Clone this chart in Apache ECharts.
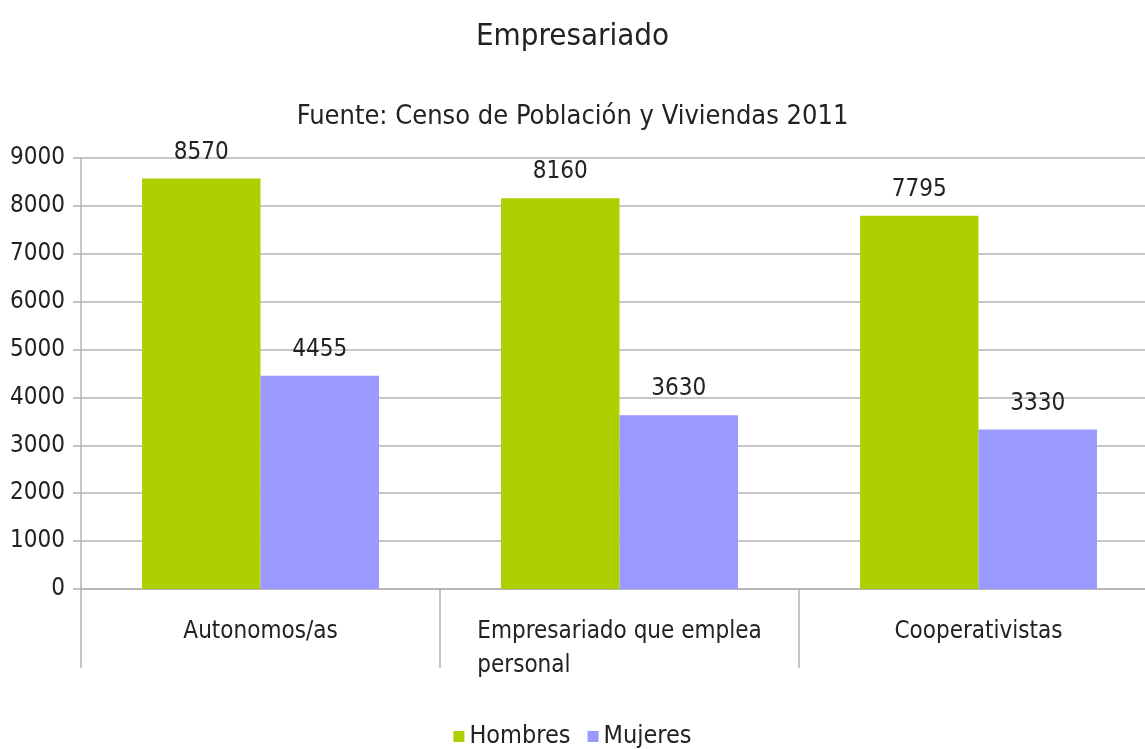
<!DOCTYPE html>
<html>
<head>
<meta charset="utf-8">
<style>
  html, body { margin: 0; padding: 0; background: #fff; }
  #chartContainer { width: 1145px; height: 749px; }
</style>
<script src="https://cdn.jsdelivr.net/npm/echarts@6/dist/echarts.min.js"></script>
</head>
<body>
<div id="chartContainer"></div>
<script>
const categories = ['Autonomos/as', 'Empresariado que emplea\npersonal', 'Cooperativistas'];
const hombres = [8570, 8160, 7795];
const mujeres = [4455, 3630, 3330];
const seriesNames = ['Hombres', 'Mujeres'];

const font = '"DejaVu Sans Condensed", "Liberation Sans", sans-serif';
const gridColor = '#b3b3b3';
const textColor = '#222';

const chart = echarts.init(document.getElementById('chartContainer'), null, {renderer: 'canvas'});
const option = {
    animation: false,
    color: ['#aecf00', '#9999ff'],
    title: [
        {
            text: 'Empresariado',
            left: 'center',
            top: 16,
            textStyle: {fontFamily: font, fontSize: 31, fontWeight: 'normal', color: textColor}
        },
        {
            text: 'Fuente: Censo de Población y Viviendas 2011',
            left: 'center',
            top: 98,
            textStyle: {fontFamily: font, fontSize: 27, fontWeight: 'normal', color: textColor}
        }
    ],
    legend: {
        bottom: -5,
        left: 'center',
        icon: 'rect',
        itemWidth: 11,
        itemHeight: 11,
        itemGap: 17,
        textStyle: {fontFamily: font, fontSize: 25, color: textColor},
        data: seriesNames
    },
    grid: {
        left: 81,
        top: 158,
        bottom: 160,
        width: 1077,
        outerBoundsMode: 'none',
        containLabel: false
    },
    xAxis: {
        type: 'category',
        data: categories,
        axisLine: {lineStyle: {color: gridColor, width: 1.5}},
        axisTick: {show: true, length: 79, interval: 0, lineStyle: {color: gridColor, width: 1.5}},
        axisLabel: {
            interval: 0,
            margin: 26,
            formatter: function (value) {
                return value.split('\n').map(function (line) {
                    return '{a|' + line + '}';
                }).join('\n');
            },
            rich: {
                a: {fontFamily: font, fontSize: 24, color: textColor, align: 'left', lineHeight: 34}
            }
        }
    },
    yAxis: {
        type: 'value',
        min: 0,
        max: 9000,
        interval: 1000,
        axisLine: {show: true, lineStyle: {color: gridColor, width: 1.5}},
        axisTick: {show: true, length: 8, lineStyle: {color: gridColor, width: 1.5}},
        axisLabel: {
            fontFamily: font, fontSize: 24, color: textColor, margin: 16,
            formatter: function (v) { return String(v); }
        },
        splitLine: {lineStyle: {color: gridColor, width: 1.5}}
    },
    series: [
        {
            name: seriesNames[0],
            type: 'bar',
            data: hombres,
            barGap: '0%',
            barCategoryGap: '34%',
            label: {show: true, position: 'top', distance: 14, fontFamily: font, fontSize: 24, color: textColor}
        },
        {
            name: seriesNames[1],
            type: 'bar',
            data: mujeres,
            barGap: '0%',
            barCategoryGap: '34%',
            label: {show: true, position: 'top', distance: 14, fontFamily: font, fontSize: 24, color: textColor}
        }
    ]
};
chart.setOption(option);
</script>
</body>
</html>
